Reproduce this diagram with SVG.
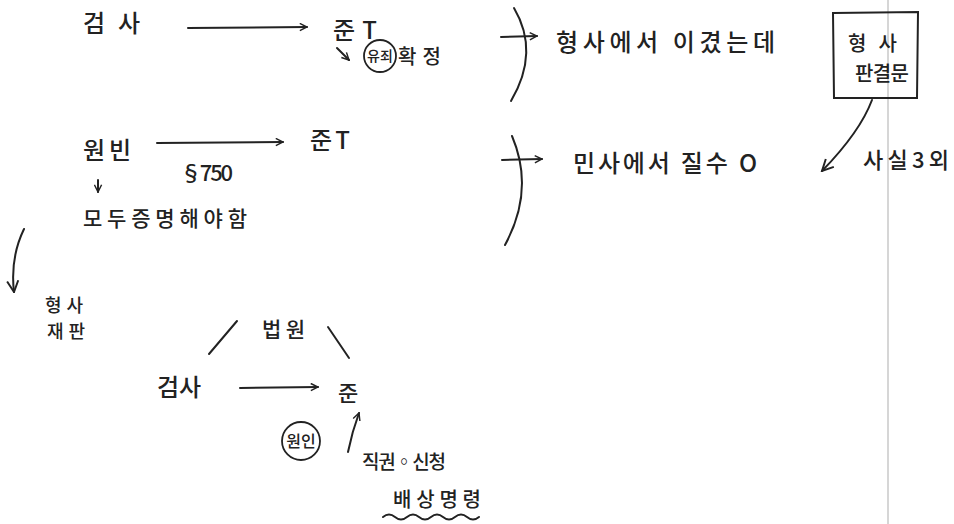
<svg xmlns="http://www.w3.org/2000/svg" width="954" height="524" viewBox="0 0 954 524">
<defs>
<marker id="ah" viewBox="0 0 10 10" refX="9" refY="5" markerWidth="9" markerHeight="9" markerUnits="userSpaceOnUse" orient="auto">
<path d="M1,1 L9,5 L1,9" fill="none" stroke="#222" stroke-width="1.6"/>
</marker>
<marker id="ahl" viewBox="0 0 10 10" refX="9" refY="5" markerWidth="14" markerHeight="14" markerUnits="userSpaceOnUse" orient="auto">
<path d="M1,1 L9,5 L1,9" fill="none" stroke="#222" stroke-width="1.4"/>
</marker>
</defs>
<style>
text{font-family:"Noto Sans CJK KR","Noto Sans",sans-serif;fill:#222;font-size:24px;font-weight:500;}
.s14{font-size:14px;}
.s16{font-size:16px;}
.s18{font-size:18px;}
.s19{font-size:19px;}
.s20{font-size:20px;}
.s21{font-size:21px;}
.s22{font-size:22px;}
.mid{text-anchor:middle;}
.ln{fill:none;stroke:#222;stroke-width:2;stroke-linecap:round;}
.ar{fill:none;stroke:#222;stroke-width:2;stroke-linecap:round;marker-end:url(#ah);}
.arl{fill:none;stroke:#222;stroke-width:2;stroke-linecap:round;marker-end:url(#ahl);}
</style>
<rect width="954" height="524" fill="#fff"/>
<line x1="888" y1="0" x2="888" y2="524" stroke="#bbb" stroke-width="1.2"/>

<g id="n-prosecutor1"><text x="83" y="32" textLength="57">검사</text></g>
<g id="n-defendant1"><text x="333" y="39" textLength="44">준T</text></g>
<g id="n-guilty">
<circle cx="380" cy="56" r="16" fill="none" stroke="#222" stroke-width="1.8"/>
<text class="s14 mid" x="380" y="61">유죄</text>
<text class="s20" x="398" y="64" textLength="43">확정</text>
</g>
<g id="n-plaintiff"><text x="83" y="159" textLength="48">원빈</text></g>
<g id="n-defendant2"><text x="310" y="149" textLength="40">준T</text></g>
<g id="n-art750"><text class="s22" x="180" y="181" textLength="53">§750</text></g>
<g id="n-prove"><text class="s21" x="83" y="226" textLength="164">모두증명해야함</text></g>
<g id="n-criminal-trial">
<text class="s18" x="45" y="312" textLength="38">형사</text>
<text class="s18" x="47" y="338" textLength="38">재판</text>
</g>
<g id="n-court"><text class="s21" x="262" y="337" textLength="43">법원</text></g>
<g id="n-prosecutor2"><text x="157" y="396" textLength="44">검사</text></g>
<g id="n-defendant3"><text class="s22" x="338" y="401" textLength="21">준</text></g>
<g id="n-victim">
<circle cx="301" cy="441" r="19" fill="none" stroke="#222" stroke-width="1.8"/>
<text class="s16 mid" x="301" y="447">원인</text>
</g>
<g id="n-motion"><text class="s19" x="362" y="469" textLength="84">직권◦신청</text></g>
<g id="n-compensation">
<text class="s20" x="393" y="507" textLength="88">배상명령</text>
<path class="ln" d="M383,517 q6,-5 12,0 t12,0 t12,0 t12,0 t12,0 t12,0 t12,0 t12,0" stroke-width="1.6"/>
</g>
<g id="n-won"><text x="556" y="51" textLength="219">형사에서 이겼는데</text></g>
<g id="n-judgment">
<path class="ln" d="M833,13 L918,12 L917,98 L834,98 Z"/>
<text class="s20" x="848" y="51" textLength="49">형사</text>
<text class="s20" x="855" y="81" textLength="54">판결문</text>
</g>
<g id="n-lose"><text x="573" y="172" textLength="184">민사에서  질수  O</text></g>
<g id="n-fact"><text class="s22" x="863" y="168" textLength="86">사실3외</text></g>

<g id="connectors">
<path class="ar" d="M188,28 L307,27"/>
<path class="ar" d="M337,48 L349,60"/>
<path class="ar" d="M157,143 L283,142"/>
<path class="ar" d="M98,180 L98,192"/>
<path class="arl" d="M24,229 Q10,258 14,292"/>
<path class="ln" d="M209,354 L237,321"/>
<path class="ln" d="M328,327 L349,358"/>
<path class="ar" d="M240,388 L318,387"/>
<path class="ar" d="M348,452 Q352,432 359,413"/>
<path class="ln" d="M514,8 Q540,52 511,101"/>
<path class="ar" d="M501,37 L537,36"/>
<path class="ln" d="M512,136 Q535,190 505,245"/>
<path class="ar" d="M502,160 L542,159"/>
<path class="arl" d="M872,100 Q860,132 822,171"/>
</g>
</svg>
